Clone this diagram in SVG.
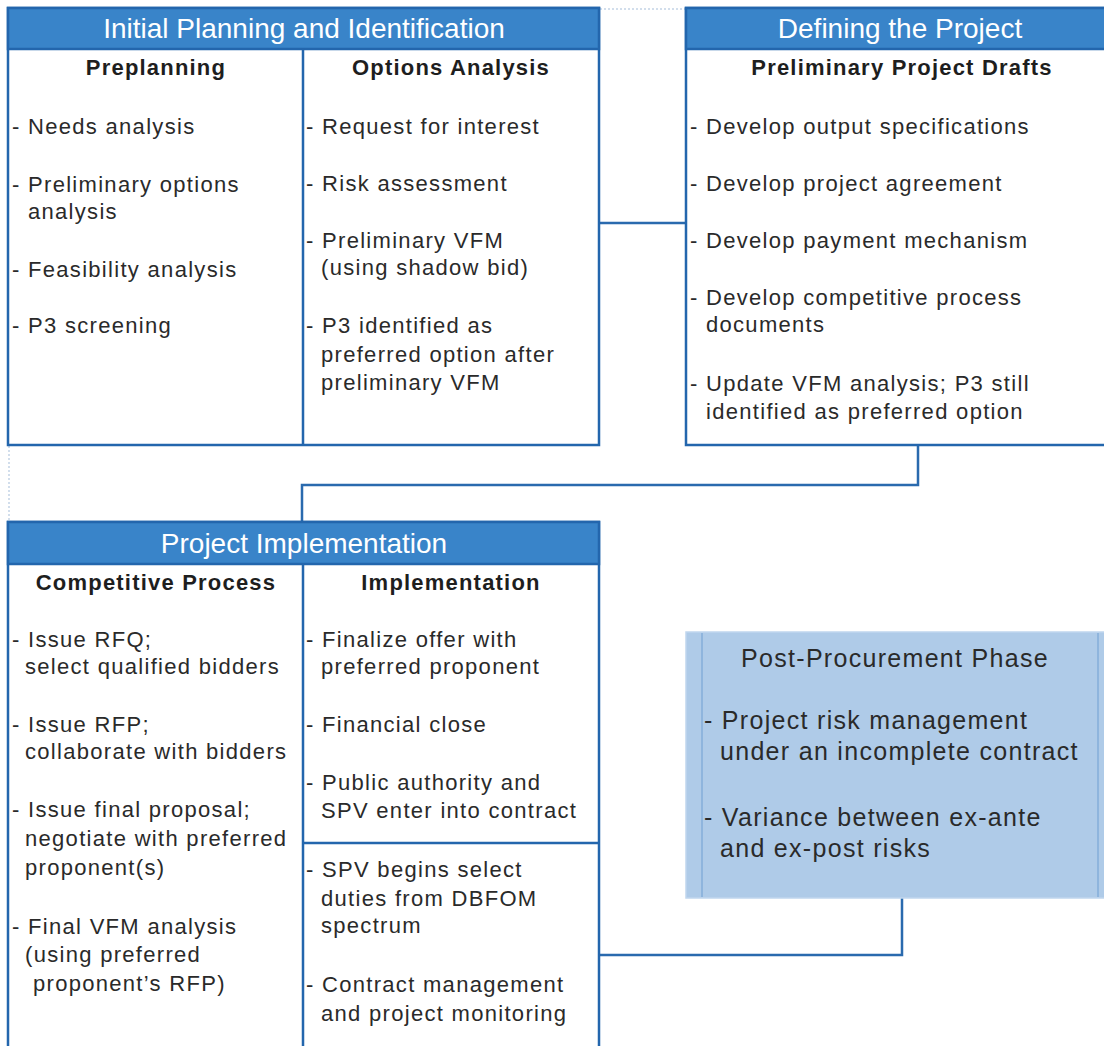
<svg xmlns="http://www.w3.org/2000/svg" width="1104" height="1046" viewBox="0 0 1104 1046">
<style>
.box{fill:#ffffff;stroke:#2366ad;stroke-width:2.5}
.hdr{fill:#3984c9;stroke:#2366ad;stroke-width:2.5}
.div{stroke:#2366ad;stroke-width:2.5;fill:none}
.conn{stroke:#2a6aae;stroke-width:2.5;fill:none}
.dot{stroke:#c4d3e6;stroke-width:1.5;stroke-dasharray:2 2;fill:none}
.ht{font-family:"Liberation Sans",Arial,sans-serif;font-size:28px;fill:#ffffff;text-anchor:middle}
.st{font-family:"Liberation Sans",Arial,sans-serif;font-size:22px;font-weight:bold;fill:#1e1e1e;text-anchor:middle;letter-spacing:1.2px}
.t{font-family:"Liberation Sans",Arial,sans-serif;font-size:22px;fill:#2a2a2a;letter-spacing:1.3px}
.pt{font-family:"Liberation Sans",Arial,sans-serif;font-size:25px;fill:#2a2a2a;letter-spacing:1.3px}
</style>
<rect width="1104" height="1046" fill="#ffffff"/>
<g id="connectors">
<line class="dot" x1="600" y1="9" x2="686" y2="9"/>
<line class="dot" x1="9" y1="446" x2="9" y2="522"/>
<line class="conn" x1="600" y1="223" x2="686" y2="223"/>
<polyline class="conn" points="918,445 918,485 302,485 302,522"/>
<polyline class="conn" points="902,898 902,955 600,955"/>
</g>
<g id="initial-planning">
<rect class="box" x="8" y="8" width="591" height="437"/>
<rect class="hdr" x="8" y="8" width="591" height="41"/>
<line class="div" x1="303" y1="49" x2="303" y2="445"/>
<text class="ht" x="304" y="38">Initial Planning and Identification</text>
<text class="st" x="156" y="75">Preplanning</text>
<text class="st" x="451" y="75">Options Analysis</text>
<text class="t" x="12" y="134">- Needs analysis</text>
<text class="t" x="12" y="192">- Preliminary options</text>
<text class="t" x="28" y="219">analysis</text>
<text class="t" x="12" y="277">- Feasibility analysis</text>
<text class="t" x="12" y="333">- P3 screening</text>
<text class="t" x="306" y="134">- Request for interest</text>
<text class="t" x="306" y="191">- Risk assessment</text>
<text class="t" x="306" y="248">- Preliminary VFM</text>
<text class="t" x="321" y="275">(using shadow bid)</text>
<text class="t" x="306" y="333">- P3 identified as</text>
<text class="t" x="321" y="362">preferred option after</text>
<text class="t" x="321" y="390">preliminary VFM</text>
</g>
<g id="defining-project">
<rect class="box" x="686" y="8" width="424" height="437"/>
<rect class="hdr" x="686" y="8" width="424" height="41"/>
<text class="ht" x="900" y="38">Defining the Project</text>
<text class="st" x="902" y="75">Preliminary Project Drafts</text>
<text class="t" x="690" y="134">- Develop output specifications</text>
<text class="t" x="690" y="191">- Develop project agreement</text>
<text class="t" x="690" y="248">- Develop payment mechanism</text>
<text class="t" x="690" y="305">- Develop competitive process</text>
<text class="t" x="706" y="332">documents</text>
<text class="t" x="690" y="391">- Update VFM analysis; P3 still</text>
<text class="t" x="706" y="419">identified as preferred option</text>
</g>
<g id="project-implementation">
<rect class="box" x="8" y="522" width="591" height="540"/>
<rect class="hdr" x="8" y="522" width="591" height="42"/>
<line class="div" x1="303" y1="564" x2="303" y2="1050"/>
<line class="div" x1="303" y1="843" x2="599" y2="843"/>
<text class="ht" x="304" y="553">Project Implementation</text>
<text class="st" x="156" y="590">Competitive Process</text>
<text class="st" x="451" y="590">Implementation</text>
<text class="t" x="12" y="647">- Issue RFQ;</text>
<text class="t" x="25" y="674">select qualified bidders</text>
<text class="t" x="12" y="732">- Issue RFP;</text>
<text class="t" x="25" y="759">collaborate with bidders</text>
<text class="t" x="12" y="817">- Issue final proposal;</text>
<text class="t" x="25" y="846">negotiate with preferred</text>
<text class="t" x="25" y="875">proponent(s)</text>
<text class="t" x="12" y="934">- Final VFM analysis</text>
<text class="t" x="25" y="962">(using preferred</text>
<text class="t" x="33" y="991">proponent’s RFP)</text>
<text class="t" x="306" y="647">- Finalize offer with</text>
<text class="t" x="321" y="674">preferred proponent</text>
<text class="t" x="306" y="732">- Financial close</text>
<text class="t" x="306" y="790">- Public authority and</text>
<text class="t" x="321" y="818">SPV enter into contract</text>
<text class="t" x="306" y="877">- SPV begins select</text>
<text class="t" x="321" y="906">duties from DBFOM</text>
<text class="t" x="321" y="933">spectrum</text>
<text class="t" x="306" y="992">- Contract management</text>
<text class="t" x="321" y="1021">and project monitoring</text>
</g>
<g id="post-procurement">
<rect x="686" y="632" width="424" height="266" fill="#afcbe8" stroke="#c0d6ee" stroke-width="1.5"/>
<line x1="702" y1="633" x2="702" y2="897" stroke="#8fb5dd" stroke-width="2"/>
<line x1="1098" y1="633" x2="1098" y2="897" stroke="#8fb5dd" stroke-width="2"/>
<text class="pt" x="895" y="667" text-anchor="middle">Post-Procurement Phase</text>
<text class="pt" x="704" y="729">- Project risk management</text>
<text class="pt" x="720" y="760">under an incomplete contract</text>
<text class="pt" x="704" y="826">- Variance between ex-ante</text>
<text class="pt" x="720" y="857">and ex-post risks</text>
</g>
</svg>
